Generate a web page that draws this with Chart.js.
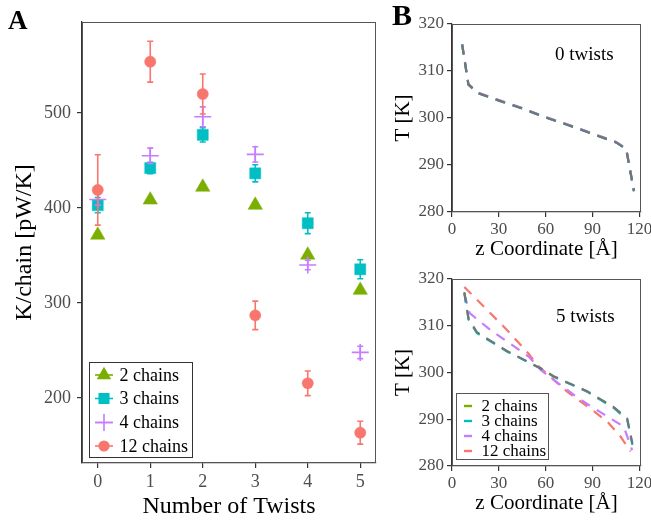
<!DOCTYPE html>
<html><head><meta charset="utf-8">
<script src="https://cdn.jsdelivr.net/npm/chart.js@4.4.0/dist/chart.umd.min.js"></script>
<style>
html,body{margin:0;padding:0;background:#fff;width:651px;height:523px;overflow:hidden;}
canvas{position:absolute;}
.lbl{position:absolute;font-family:'Liberation Serif','Times New Roman',serif;line-height:1;white-space:nowrap;color:#000;}
</style></head><body>
<canvas id="cA" width="390" height="523" style="left:0;top:0"></canvas>
<canvas id="cB1" width="261" height="260" style="left:390px;top:0"></canvas>
<canvas id="cB2" width="261" height="263" style="left:390px;top:260px"></canvas>
<div class="lbl" style="left:8px;top:7px;font-size:27px;font-weight:bold">A</div>
<div class="lbl" style="left:392px;top:0px;font-size:30px;font-weight:bold">B</div>
<div class="lbl" style="left:555px;top:44px;font-size:19px">0 twists</div>
<div class="lbl" style="left:556px;top:306px;font-size:19px">5 twists</div>
<script>
// ---------- data ----------
const seriesNames = ['2 chains', '3 chains', '4 chains', '12 chains'];
const twists = [0, 1, 2, 3, 4, 5];
const k2 = [371.5, 408.5, 422, 403, 350.5, 313.5];
const k2err = [2, 2, 2, 2, 2, 2];
const k3 = [403, 442, 477, 436.5, 384, 335.5];
const k3err = [8, 6, 7.5, 9, 11, 10];
const k4 = [409, 455, 496, 456.5, 340, 248];
const k4err = [6, 8, 10.5, 8, 5, 6.5];
const k12 = [419, 554, 520, 287, 215.5, 163.5];
const k12err = [37, 21.5, 21, 15, 13, 12];

const twistTicks = [0, 1, 2, 3, 4, 5];
const kTicks = [200, 300, 400, 500];
const zTicks = [0, 30, 60, 90, 120];
const tTicks = [280, 290, 300, 310, 320];

// 0 twists temperature profiles
const z0 = [6.5, 10.5, 16.5, 30, 45, 60, 75, 90, 105, 111.5, 116.5];
const t0_2 = [315.6, 307.1, 305.3, 303.7, 302.0, 300.1, 298.4, 296.6, 294.8, 293.4, 284.4];
const t0_3 = [315.6, 307.1, 305.3, 303.7, 302.0, 300.1, 298.4, 296.6, 294.8, 293.4, 284.4];
const t0_4 = [315.7, 307.2, 305.4, 303.8, 302.1, 300.2, 298.5, 296.7, 294.9, 293.5, 284.5];
const t0_12 = [315.7, 307.2, 305.4, 303.8, 302.1, 300.2, 298.5, 296.7, 294.9, 293.5, 284.5];

// 5 twists temperature profiles
const z5_2 = [7.9, 10.6, 16, 35.2, 56.6, 65.1, 86.5, 103.6, 112.2, 115.5];
const t5_2 = [317.2, 311.5, 308.6, 304.6, 300.9, 299.2, 296.0, 292.6, 290.1, 284.8];
const z5_3 = [7.9, 10.6, 16, 35.2, 56.6, 65.1, 86.5, 103.6, 112.2, 115.5];
const t5_3 = [317.0, 311.3, 308.4, 304.5, 300.9, 299.1, 295.9, 292.4, 289.9, 284.5];
const z5_4 = [7.9, 11.3, 24.6, 49.1, 56.6, 65.1, 82.2, 99.4, 110, 115.3];
const t5_4 = [316.8, 312.7, 309.1, 303.4, 300.6, 298.4, 294.2, 290.6, 288.4, 283.4];
const z5_12 = [7.9, 35.2, 49.1, 54.5, 73.7, 89.7, 99.4, 107.9, 114.3];
const t5_12 = [318.3, 309.1, 304.0, 301.6, 295.9, 292.0, 289.5, 286.3, 283.1];

// ---------- styling ----------
const F = "'Liberation Serif','Times New Roman',serif";
const colors = ['#7CAE00', '#00BFC4', '#C77CFF', '#F8766D'];
const lineColors = ['#757575', '#00BFC4', '#C77CFF', '#F8766D'];
const shapes = ['triangle', 'rect', 'cross', 'circle'];
const radii = [8.3, 7.8, 8.5, 5.6];
const drawOrderA = [4, 3, 2, 1];
const drawOrderB = [1, 2, 3, 4];
const TICK = '#4D4D4D', AX = '#333333';

function pts(xs, ys) { return xs.map((x, i) => ({ x: x, y: ys[i] })); }

function sym(ctx, style, x, y, r, color) {
  ctx.save();
  ctx.fillStyle = color; ctx.strokeStyle = color;
  ctx.beginPath();
  if (style === 'triangle') {
    ctx.moveTo(x, y - r); ctx.lineTo(x + r * 0.866, y + r / 2); ctx.lineTo(x - r * 0.866, y + r / 2);
    ctx.closePath(); ctx.fill();
  } else if (style === 'rect') {
    const s = r * Math.SQRT1_2; ctx.fillRect(x - s, y - s, 2 * s, 2 * s);
  } else if (style === 'cross') {
    ctx.lineWidth = 1.6;
    ctx.moveTo(x - r, y); ctx.lineTo(x + r, y); ctx.moveTo(x, y - r); ctx.lineTo(x, y + r); ctx.stroke();
  } else {
    ctx.arc(x, y, r, 0, Math.PI * 2); ctx.fill();
  }
  ctx.restore();
}

const framePlugin = {
  id: 'frame',
  beforeDatasetsDraw(chart) {
    const a = chart.chartArea, ctx = chart.ctx;
    ctx.save();
    ctx.strokeStyle = '#555'; ctx.lineWidth = 1;
    ctx.strokeRect(Math.round(a.left) + 0.5, Math.round(a.top) + 0.5, Math.round(a.right - a.left) - 1, Math.round(a.bottom - a.top) - 1);
    ctx.restore();
  }
};

const errPlugin = {
  id: 'errbars',
  beforeDatasetDraw(chart, args) {
    const ds = chart.data.datasets[args.index];
    if (!ds.errors) return;
    const xs = chart.scales.x, ys = chart.scales.y, ctx = chart.ctx;
    ctx.save();
    ctx.strokeStyle = ds.borderColor; ctx.lineWidth = 1.6;
    ds.data.forEach((p, i) => {
      const e = ds.errors[i];
      const px = xs.getPixelForValue(p.x);
      const y1 = ys.getPixelForValue(p.y + e), y2 = ys.getPixelForValue(p.y - e);
      ctx.beginPath();
      ctx.moveTo(px, y1); ctx.lineTo(px, y2);
      ctx.moveTo(px - 3, y1); ctx.lineTo(px + 3, y1);
      ctx.moveTo(px - 3, y2); ctx.lineTo(px + 3, y2);
      ctx.stroke();
    });
    ctx.restore();
  }
};

const legendA = {
  id: 'legendA',
  afterDraw(chart) {
    const ctx = chart.ctx;
    ctx.save();
    const bx = 89.5, by = 362.5, bw = 103, bh = 95;
    ctx.fillStyle = '#fff'; ctx.fillRect(bx, by, bw, bh);
    ctx.strokeStyle = '#333'; ctx.lineWidth = 1; ctx.strokeRect(bx, by, bw, bh);
    const rowY = [375, 398.5, 422.5, 446];
    chart.data.datasets.forEach((ds, i) => {
      const y = rowY[i];
      ctx.strokeStyle = ds.borderColor; ctx.lineWidth = 1.6;
      ctx.beginPath(); ctx.moveTo(95, y); ctx.lineTo(113, y); ctx.stroke();
      sym(ctx, ds.pointStyle, 104, y, ds.pointRadius, ds.borderColor);
      ctx.fillStyle = '#000'; ctx.font = '18px ' + F; ctx.textBaseline = 'middle'; ctx.textAlign = 'left';
      ctx.fillText(ds.label, 119.5, y + 1);
    });
    ctx.restore();
  }
};

const legendB = {
  id: 'legendB',
  afterDraw(chart) {
    if (!chart.options.plugins.legendB || !chart.options.plugins.legendB.show) return;
    const ctx = chart.ctx;
    ctx.save();
    const bx = 66.5, by = 133.5, bw = 92, bh = 66;
    ctx.fillStyle = '#fff'; ctx.fillRect(bx, by, bw, bh);
    ctx.strokeStyle = '#555'; ctx.lineWidth = 1; ctx.strokeRect(bx, by, bw, bh);
    const rowY = [146, 161, 176, 191];
    chart.data.datasets.forEach((ds, i) => {
      const y = rowY[i];
      ctx.strokeStyle = colors[i]; ctx.lineWidth = 2.4;
      ctx.beginPath(); ctx.moveTo(74, y); ctx.lineTo(82, y); ctx.stroke();
      ctx.fillStyle = '#000'; ctx.font = '17px ' + F; ctx.textBaseline = 'middle'; ctx.textAlign = 'left';
      ctx.fillText(ds.label, 91.5, y + 1);
    });
    ctx.restore();
  }
};

function axisX(min, max, tickVals, h, title, tickSize, titleSize, titlePad, tickPad) {
  return {
    type: 'linear', min: min, max: max,
    afterBuildTicks: s => { s.ticks = tickVals.map(v => ({ value: v })); },
    afterFit: s => { s.height = h; s.paddingLeft = 0; s.paddingRight = 0; },
    grid: { drawOnChartArea: false, drawTicks: true, tickLength: 5, tickColor: AX, lineWidth: 1.2 },
    border: { display: true, color: AX, width: 1.2 },
    ticks: { color: TICK, font: { family: F, size: tickSize }, padding: tickPad, maxRotation: 0, autoSkip: false, callback: v => String(v) },
    title: { display: true, text: title, color: '#000', font: { family: F, size: titleSize, lineHeight: 1 }, padding: { top: 0, bottom: titlePad } }
  };
}
function axisY(min, max, tickVals, w, title, tickSize, titleSize, titlePad, tickPad) {
  return {
    type: 'linear', min: min, max: max,
    afterBuildTicks: s => { s.ticks = tickVals.map(v => ({ value: v })); },
    afterFit: s => { s.width = w; s.paddingTop = 0; s.paddingBottom = 0; },
    grid: { drawOnChartArea: false, drawTicks: true, tickLength: 5, tickColor: AX, lineWidth: 1.2 },
    border: { display: true, color: AX, width: 1.2 },
    ticks: { color: TICK, font: { family: F, size: tickSize }, padding: tickPad, autoSkip: false, callback: v => String(v) },
    title: { display: true, text: title, color: '#000', font: { family: F, size: titleSize, lineHeight: 1 }, padding: { top: titlePad, bottom: 0 } }
  };
}

const baseOpts = {
  responsive: false, animation: false, events: [],
  plugins: { legend: { display: false }, tooltip: { enabled: false } }
};

// ---------- Panel A ----------
const kSeries = [k2, k3, k4, k12];
const kErrs = [k2err, k3err, k4err, k12err];
new Chart(document.getElementById('cA'), {
  type: 'scatter',
  data: {
    datasets: seriesNames.map((name, i) => ({
      label: name, data: pts(twists, kSeries[i]), errors: kErrs[i],
      pointStyle: shapes[i], pointRadius: radii[i],
      backgroundColor: colors[i], borderColor: colors[i],
      borderWidth: shapes[i] === 'cross' ? 1.6 : 0.5, order: drawOrderA[i], showLine: false
    }))
  },
  options: Object.assign({}, baseOpts, {
    layout: { padding: { top: 22, right: 14, left: 0, bottom: 0 } },
    scales: {
      x: axisX(-0.3, 5.3, twistTicks, 60, 'Number of Twists', 18, 24, 4, 3),
      y: axisY(131.6, 595.8, kTicks, 82, 'K/chain [pW/K]', 18, 24, 13, 6)
    }
  }),
  plugins: [framePlugin, errPlugin, legendA]
});

// ---------- Panel B ----------
function bChart(id, zs, ts, padTop, xH, xTitlePad, showLegend) {
  return new Chart(document.getElementById(id), {
    type: 'line',
    data: {
      datasets: seriesNames.map((name, i) => ({
        label: name, data: pts(zs[i], ts[i]),
        borderColor: lineColors[i], borderWidth: 2.2, borderDash: [10, 8],
        pointRadius: 0, fill: false, tension: 0, order: drawOrderB[i]
      }))
    },
    options: Object.assign({}, baseOpts, {
      plugins: { legend: { display: false }, tooltip: { enabled: false }, legendB: { show: showLegend } },
      layout: { padding: { top: padTop, right: 10, left: 0, bottom: 0 } },
      scales: {
        x: axisX(0, 121, zTicks, xH, 'z Coordinate [Å]', 17, 21, xTitlePad, 2),
        y: axisY(280, 320, tTicks, 62, 'T [K]', 17, 21, 3, 3)
      }
    }),
    plugins: [framePlugin, legendB]
  });
}
bChart('cB1', [z0, z0, z0, z0], [t0_2, t0_3, t0_4, t0_12], 24, 48, 0, false);
bChart('cB2', [z5_2, z5_3, z5_4, z5_12], [t5_2, t5_3, t5_4, t5_12], 19, 57, 9.5, true);
</script>
</body></html>
